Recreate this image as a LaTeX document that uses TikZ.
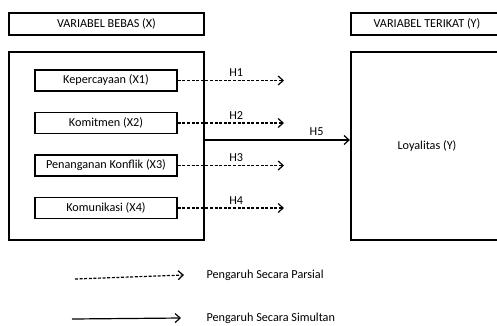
\documentclass[tikz,border=0pt]{standalone}
\usepackage{fontspec}
\setmainfont{Carlito}
\usetikzlibrary{arrows.meta,positioning}
\tikzstyle{headbox} = [draw, line width=2.2pt, minimum height=22pt, inner sep=0pt]
\tikzstyle{bigbox}  = [draw, line width=2.2pt, minimum height=188pt, inner sep=0pt]
\tikzstyle{varbox}  = [draw, line width=1.5pt, minimum width=142pt, minimum height=21pt, inner sep=0pt]
\tikzstyle{parsial} = [line width=1.2pt, dash pattern=on 3pt off 1.6pt, -{Straight Barb[length=5pt,width=9pt]}]
\tikzstyle{simultan} = [line width=1.2pt, -{Straight Barb[length=5pt,width=9pt]}]
\tikzset{
	x=1pt, y=-1pt,
	font=\fontsize{12.2}{14}\selectfont,
}

\begin{document}
\begin{tikzpicture}
        \useasboundingbox (0,0) rectangle (497,325);

        \node[headbox, minimum width=195pt] (bebas) at (106.5,24) {VARIABEL BEBAS (X)};
        \node[headbox, minimum width=152pt] (terikat) at (427,24) {VARIABEL TERIKAT (Y)};
        \node[bigbox, minimum width=195pt] (X) at (106.5,146) {};
        \node[bigbox, minimum width=152pt] (Y) at (427,146) {Loyalitas (Y)};

        \node[varbox] (x1) at (106,80.5) {Kepercayaan (X1)};
        \node[varbox] (x2) at (106,123) {Komitmen (X2)};
        \node[varbox] (x3) at (106,165.5) {Penanganan Konflik (X3)};
        \node[varbox] (x4) at (106,208) {Komunikasi (X4)};

        % ujung panah parsial
        \coordinate (e1) at (284,80.5);
        \coordinate (e2) at (284,123);
        \coordinate (e3) at (284,165.5);
        \coordinate (e4) at (284,208);
        \coordinate (h5) at (276,140);

        \draw[parsial] (x1) -- (e1) node[above, pos=0.55] {H1};
        \draw[parsial] (x2) -- (e2) node[above, pos=0.55] {H2};
        \draw[parsial] (x3) -- (e3) node[above, pos=0.55] {H3};
        \draw[parsial] (x4) -- (e4) node[above, pos=0.55] {H4};
        \draw[simultan] (X.east |- h5) -- (Y.west |- h5) node[above, pos=0.77] {H5};

        % keterangan
        \node[right] (lp) at (203,275) {Pengaruh Secara Parsial};
        \node[right] (ls) at (203,318) {Pengaruh Secara Simultan};
        \coordinate (p0) at (75,279);
        \coordinate (s0) at (72,319);
        \draw[parsial] (p0) -- (lp.west -| 184,0);
        \draw[simultan] (s0) -- (ls.west -| 181,0);
    \end{tikzpicture}
\end{document}
